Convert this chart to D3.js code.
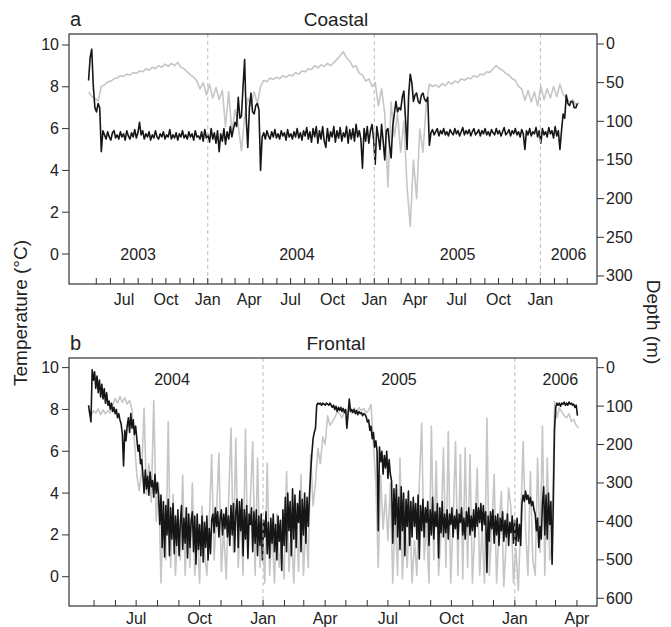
<!DOCTYPE html>
<html>
<head>
<meta charset="utf-8">
<script src="https://cdn.jsdelivr.net/npm/d3@7"></script>
<style>
  body { margin: 0; background: #fff; }
  svg text { font-family: "Liberation Sans", Arial, Helvetica, sans-serif; fill: #222; }
</style>
</head>
<body>
<div id="chart"></div>
<script>
// ---- data ----
// panel a (Coastal), series start 2003-04-14
const coastalStart = Date.UTC(2003, 3, 14);
const coastalTempStep = 3.5;   // days between temperature readings
const coastalDepthStep = 7;    // days between depth readings
const coastalTemp = [
  8.3, 9.4, 9.8, 8.0, 7.0, 6.8, 7.2, 7.0, 4.9, 5.9,
  5.7, 5.5, 5.85, 5.6, 5.45, 5.8, 5.9, 5.55, 5.7, 5.5,
  5.85, 5.6, 5.75, 5.45, 5.9, 5.65, 5.5, 5.8, 5.6, 5.95,
  5.55, 5.8, 6.3, 5.7, 5.9, 5.5, 5.75, 5.6, 5.85, 5.45,
  5.7, 5.55, 5.9, 5.6, 5.5, 5.75, 5.6, 5.85, 5.5, 5.7,
  5.6, 5.95, 5.5, 5.7, 5.55, 5.8, 5.45, 5.75, 5.6, 5.9,
  5.55, 5.7, 5.5, 5.85, 5.6, 5.75, 5.45, 5.9, 5.6, 5.65,
  5.5, 5.85, 5.4, 5.95, 5.55, 5.7, 5.35, 6.0, 5.5, 5.8,
  5.3, 5.9, 4.9, 5.75, 5.4, 6.0, 5.25, 5.85, 5.5, 6.1,
  5.6, 6.0, 6.3, 6.1, 7.5, 6.5, 6.6, 8.0, 9.3, 6.5,
  5.1, 7.0, 7.7, 6.8, 6.7, 7.1, 7.2, 6.9, 4.0, 5.6,
  5.8, 5.5, 5.9, 5.65, 5.5, 5.85, 5.6, 5.95, 5.55, 5.75,
  5.5, 5.9, 5.65, 5.8, 5.45, 5.95, 5.6, 5.75, 5.5, 5.85,
  5.6, 6.0, 5.55, 5.8, 5.45, 5.9, 5.65, 6.05, 5.5, 5.85,
  5.35, 6.0, 5.6, 6.1, 5.3, 5.9, 5.5, 6.1, 5.4, 5.1,
  6.0, 5.4, 5.85, 5.6, 6.1, 5.35, 5.9, 5.55, 6.05, 5.4,
  5.8, 5.6, 6.1, 5.3, 5.95, 5.5, 6.0, 5.4, 6.2, 5.6,
  5.9, 5.5, 4.1, 6.0, 5.4, 6.1, 5.3, 5.9, 6.2, 5.5,
  4.3, 6.1, 5.6, 5.0, 6.2, 5.4, 4.5, 5.9, 6.0, 5.2, 4.6, 6.1,
  6.7, 7.3, 6.8, 7.0, 6.9, 7.5, 7.8, 6.5, 5.0, 7.6,
  8.6, 8.2, 7.3, 7.6, 7.7, 7.3, 7.2, 7.6, 7.7, 7.4,
  7.3, 7.5, 5.2, 5.8,
  5.95, 5.7, 5.85, 6.0, 5.65, 5.9, 5.75, 6.0, 5.7, 5.85,
  5.65, 5.95, 5.8, 5.7, 6.0, 5.75, 5.9, 5.65, 5.85, 6.05,
  5.7, 5.9, 5.75, 5.95, 5.65, 5.85, 6.0, 5.7, 5.8, 5.95,
  5.65, 5.9, 5.75, 6.0, 5.7, 5.85, 5.65, 5.95, 5.8, 5.7,
  6.0, 5.75, 5.9, 5.65, 5.85, 6.05, 5.7, 5.8, 5.95, 5.65,
  5.9, 5.75, 6.0, 5.7, 5.85, 5.6, 5.95, 5.75, 5.0, 5.9,
  5.7, 6.0, 5.65, 5.85, 5.75, 6.05, 5.6, 5.9, 5.3, 6.0,
  5.7, 5.85, 5.6, 6.05, 5.75, 5.9, 5.55, 6.1, 5.65, 5.9,
  5.0, 5.9, 6.7, 6.5, 7.6, 7.2, 7.1, 7.3, 7.3, 7.0,
  7.0, 7.2
];
const coastalDepth = [
  62, 68, 70, 74, 55, 53, 49, 48, 45, 44,
  41, 42, 39, 40, 37, 38, 35, 36, 32, 34,
  30, 32, 28, 30, 26, 29, 25, 28, 24, 30,
  32, 36, 40, 43, 48, 58, 50, 66, 52, 70,
  56, 72, 60, 107, 62, 115, 85, 105, 138, 95,
  70, 80, 62, 78, 55, 47, 49, 44, 46, 43,
  45, 41, 43, 40, 41, 37, 39, 35, 36, 32,
  33, 28, 31, 27, 29, 25, 28, 24, 20, 15,
  10, 18, 22, 30, 28, 38, 40, 48, 45, 55,
  50, 80, 58, 90, 185, 75, 120, 90, 140, 100,
  185, 236, 150, 200, 110, 140, 80, 52, 55, 53,
  56, 51, 54, 49, 52, 48, 50, 45, 47, 44,
  45, 41, 43, 39, 40, 36, 37, 32, 28, 32,
  34, 38, 40, 45, 47, 55, 58, 73, 60, 75,
  62, 80, 55, 72, 58, 70, 55, 68, 52, 65,
  70, 75, 72, 78, 76
];

// panel b (Frontal), series start 2004-04-23
const frontalStart = Date.UTC(2004, 3, 23);
const frontalTempStep = 1.75;
const frontalDepthStep = 3.5;
const frontalTemp = [
  8.2, 7.8, 7.4, 9.9,
  9.4, 9.8, 9.0, 9.6, 8.8, 9.4, 8.6, 9.2, 8.5, 9.0, 8.3, 8.8, 8.2,
  8.4, 8.0, 8.3, 7.9, 8.1, 7.8, 8.0, 7.6, 7.8, 7.5, 7.3,
  6.8, 5.3, 7.0, 6.5,
  7.2, 7.6, 6.9, 7.8, 7.1, 7.5, 6.8, 7.2,
  6.6, 6.0, 6.3, 5.4, 5.6,
  4.9, 4.0, 5.1, 4.2, 4.8, 3.9, 5.0, 4.3, 4.6, 3.8, 4.9, 4.0, 4.5, 3.9,
  2.5, 3.9, 1.4, 3.6, 0.95, 3.4, 2.0, 3.7,
  1.0, 3.3, 1.8, 3.5, 1.1, 2.9, 1.5, 3.2, 1.0, 2.6,
  3.4, 1.3, 2.8, 1.6, 3.3, 0.9, 3.0, 1.4, 2.7, 3.1,
  1.2, 2.9, 0.6, 3.0, 1.3, 2.5, 1.0, 2.9,
  0.7, 2.6, 1.4, 2.9, 0.8, 2.3, 1.1, 2.7,
  3.0, 2.1, 3.3, 2.4, 3.1, 1.9, 2.8, 3.2, 2.0, 3.0, 2.3, 3.3, 1.9, 2.9,
  1.5, 3.4, 2.0, 3.5, 1.2, 3.1, 3.7, 1.4, 3.6, 2.2,
  3.7, 1.0, 3.2, 1.8, 3.4, 0.9, 3.0, 2.5, 3.3, 1.2,
  3.1, 1.6, 3.2,
  1.0, 2.9, 1.5, 3.0, 0.8, 2.7, 1.9, 3.1, 1.1, 2.6,
  0.9, 2.8, 1.6, 3.0, 1.2, 2.5, 0.8, 2.9, 1.7, 2.7,
  0.3,
  3.2, 1.5, 3.8, 1.2, 4.0, 2.2, 3.6, 1.0, 4.2, 1.8,
  3.9, 1.4, 3.5, 2.6, 4.1, 1.2, 3.7, 2.0, 4.0, 1.6,
  3.8, 2.4, 3.9,
  5.0, 5.9, 6.6, 6.9, 7.1, 8.2, 8.3,
  8.25, 8.3, 8.2, 8.3, 8.25, 8.2, 8.3, 8.25, 8.2, 8.3, 8.2,
  8.1, 8.2, 8.0, 8.15, 7.9, 8.1, 7.95, 8.1, 7.9, 8.05,
  7.85, 8.0, 7.1, 7.8, 8.5, 7.9, 8.0, 7.85, 8.0, 7.8,
  7.95, 7.75, 7.9, 7.8, 7.85, 7.7, 7.8, 7.75, 7.65,
  7.4, 7.5, 7.0, 7.2, 6.6, 6.9, 6.2, 6.5,
  6.0, 2.2, 6.2, 5.5, 6.0, 4.9, 5.8, 5.2, 6.0, 4.7, 5.6, 4.9,
  4.6, 1.6, 4.2, 2.5, 4.4, 1.9, 3.8, 1.3, 4.3, 2.2,
  4.0, 1.0, 3.7, 2.4, 4.1, 1.5, 3.6,
  1.9, 3.8, 2.4, 3.5, 1.8, 3.9, 0.85, 3.4, 2.2, 3.7,
  1.9, 3.3, 2.6, 3.6, 1.5, 3.2, 2.0, 3.8, 1.8, 3.1,
  2.4, 3.5, 0.9, 3.3, 2.1, 3.6, 1.9, 3.0,
  2.1, 3.2, 1.8, 3.0, 2.5, 3.3, 1.9, 2.9, 2.3, 3.2,
  1.8, 3.0, 2.6, 3.3, 2.0, 2.8, 1.8, 3.1, 2.4, 3.3,
  2.0, 2.9, 2.2, 3.2, 1.9,
  3.5, 2.4, 3.3, 2.6, 3.5, 2.2, 3.4, 2.5, 3.1, 0.2, 2.9,
  1.7, 3.1, 2.3, 3.2, 1.6, 2.9, 2.0, 3.0, 1.5, 2.8,
  2.2, 3.1, 1.7, 2.7, 1.9, 3.0, 1.5, 2.6, 2.1, 2.9,
  1.6, 2.7,
  1.5, 2.8, 1.7, 2.5, 1.5,
  3.5, 3.9, 3.6, 4.1, 3.7, 3.9, 3.5, 3.8, 3.4, 3.6, 3.2,
  3.0, 2.2, 2.8, 1.4, 2.4, 1.8,
  3.5, 4.3, 2.0, 3.9, 1.8, 4.0, 2.5, 3.6, 0.6,
  3.5, 7.0, 8.1,
  8.3, 8.2, 8.3, 8.15, 8.3, 8.25, 8.35, 8.2, 8.3, 8.2,
  8.35, 8.25, 8.3, 8.2, 8.25, 8.1, 8.2, 7.7
];
const frontalDepth = [
  110, 126, 112, 118, 108, 122, 110, 120, 112, 118,
  97, 80, 92, 75, 90, 78, 95, 85, 110, 190,
  280, 320, 270, 105, 330, 250, 350, 85, 400, 300,
  560, 350, 500, 140, 520, 330, 540, 400, 500, 280,
  540, 380, 520, 300, 540, 420, 560, 360, 480, 540,
  400, 226, 500, 380, 222, 530, 420, 550, 350, 157,
  480, 183, 520, 380, 540, 160, 500, 350, 192, 540,
  235, 520, 400, 560, 248, 540, 420, 560, 380, 520,
  450, 550, 270, 530, 420, 560, 380, 530, 278, 540,
  400, 520, 226, 360, 300, 210, 250, 180, 200, 125,
  150, 140, 130, 115, 120, 130, 112, 122, 108, 118,
  105, 115, 104, 112, 106, 118, 110, 96, 200, 300,
  520, 280, 420, 330, 450, 300, 560, 380, 540, 235,
  550, 400, 520, 360, 560, 450, 540, 300, 144, 500,
  400, 560, 152, 500, 243, 540, 430, 209, 520, 166,
  560, 400, 192, 540, 226, 550, 209, 520, 226, 560,
  420, 261, 540, 420, 560, 131, 540, 420, 278, 560,
  420, 322, 570, 450, 313, 365, 560, 470, 580, 400,
  192, 420, 540, 270, 500, 540, 235, 480, 152, 540,
  235, 500, 460, 88, 130, 105, 115, 125, 130, 120,
  140, 135, 150, 157
];

const tempTicks = [0, 2, 4, 6, 8, 10];
const coastalDepthTicks = [0, 50, 100, 150, 200, 250, 300];
const frontalDepthTicks = [0, 100, 200, 300, 400, 500, 600];
const monthNames = ['Jan', 'Apr', 'Jul', 'Oct'];
const coastalYears = [['2003', '2003-08-01'], ['2004', '2004-07-15'], ['2005', '2005-07-03'], ['2006', '2006-03-04']];
const frontalYears = [['2004', '2004-08-22'], ['2005', '2005-07-17'], ['2006', '2006-03-08']];

// ---- drawing ----
const width = 671, height = 627;
const left = 69, right = 597;
const svg = d3.select('#chart').append('svg')
  .attr('width', width)
  .attr('height', height);

function toSeries(start, stepDays, values) {
  return values.map((v, i) => ({ date: new Date(start + i * stepDays * 864e5), v: v }));
}

function drawPanel(p) {
  const temp = toSeries(p.start, p.tempStep, p.temp);
  const depth = toSeries(p.start, p.depthStep, p.depth);
  const t0 = temp[0].date, t1 = temp[temp.length - 1].date;
  const pad = (t1 - t0) * 0.04;

  const x = d3.scaleUtc()
    .domain([new Date(+t0 - pad), new Date(+t1 + pad)])
    .range([left, right]);
  const yT = d3.scaleLinear().domain(p.tempDomain).range([p.bottom, p.top]);
  const yD = d3.scaleLinear().domain(p.depthDomain).range([p.top, p.bottom]);

  const g = svg.append('g').classed(p.name, true);

  g.append('path')
    .datum(depth)
    .attr('fill', 'none')
    .attr('stroke', '#c6c6c6')
    .attr('stroke-width', 1.6)
    .attr('stroke-linejoin', 'round')
    .attr('d', d3.line().x(d => x(d.date)).y(d => yD(d.v)));

  g.append('path')
    .datum(temp)
    .attr('fill', 'none')
    .attr('stroke', '#161616')
    .attr('stroke-width', 1.6)
    .attr('stroke-linejoin', 'round')
    .attr('d', d3.line().x(d => x(d.date)).y(d => yT(d.v)));

  // year separators
  const jans = d3.utcYear.range(t0, t1);
  g.selectAll('line.sep')
    .data(jans)
    .enter()
    .append('line')
    .attr('x1', d => x(d)).attr('x2', d => x(d))
    .attr('y1', p.top).attr('y2', p.bottom)
    .style('stroke', '#bdbdbd')
    .style('stroke-dasharray', '4,3');

  // frame
  g.append('rect')
    .attr('x', left).attr('y', p.top)
    .attr('width', right - left).attr('height', p.bottom - p.top)
    .attr('fill', 'none')
    .attr('stroke', '#333')
    .attr('stroke-width', 1.2);

  // bottom month ticks, pointing inward
  const months = d3.utcMonth.range(d3.utcMonth.ceil(t0), d3.utcDay.offset(t1, 1));
  g.selectAll('line.mtick')
    .data(months)
    .enter()
    .append('line')
    .attr('x1', d => x(d)).attr('x2', d => x(d))
    .attr('y1', p.bottom).attr('y2', p.bottom - 6)
    .style('stroke', '#333');
  g.selectAll('text.mlab')
    .data(months.filter(d => d.getUTCMonth() % 3 === 0))
    .enter()
    .append('text')
    .attr('x', d => x(d))
    .attr('y', p.bottom + p.labelGap)
    .attr('text-anchor', 'middle')
    .style('font-size', '16px')
    .text(d => monthNames[d.getUTCMonth() / 3]);

  // left axis
  g.selectAll('line.ltick')
    .data(tempTicks)
    .enter()
    .append('line')
    .attr('x1', left - 7).attr('x2', left)
    .attr('y1', d => yT(d)).attr('y2', d => yT(d))
    .style('stroke', '#333');
  g.selectAll('text.llab')
    .data(tempTicks)
    .enter()
    .append('text')
    .attr('x', left - 10)
    .attr('y', d => yT(d) + 5.5)
    .attr('text-anchor', 'end')
    .style('font-size', '16px')
    .text(d => d);

  // right axis
  g.selectAll('line.rtick')
    .data(p.depthTicks)
    .enter()
    .append('line')
    .attr('x1', right).attr('x2', right + 7)
    .attr('y1', d => yD(d)).attr('y2', d => yD(d))
    .style('stroke', '#333');
  g.selectAll('text.rlab')
    .data(p.depthTicks)
    .enter()
    .append('text')
    .attr('x', right + 9)
    .attr('y', d => yD(d) + 5.5)
    .style('font-size', '16px')
    .text(d => d);

  // year labels
  g.selectAll('text.year')
    .data(p.years)
    .enter()
    .append('text')
    .attr('x', d => x(new Date(d[1])))
    .attr('y', p.yearY)
    .attr('text-anchor', 'middle')
    .style('font-size', '16px')
    .text(d => d[0]);

  // titles
  g.append('text')
    .attr('x', left + 1).attr('y', p.top - 8)
    .style('font-size', '20px')
    .text(p.letter);
  g.append('text')
    .attr('x', (left + right) / 2 + 3).attr('y', p.top - 8)
    .attr('text-anchor', 'middle')
    .style('font-size', '19px')
    .text(p.title);
}

drawPanel({
  name: 'coastal', letter: 'a', title: 'Coastal',
  top: 34, bottom: 284,
  start: coastalStart, tempStep: coastalTempStep, depthStep: coastalDepthStep,
  temp: coastalTemp, depth: coastalDepth,
  tempDomain: [-1.435, 10.526], depthDomain: [-12.9, 310.4],
  depthTicks: coastalDepthTicks,
  years: coastalYears, yearY: 260, labelGap: 21
});

drawPanel({
  name: 'frontal', letter: 'b', title: 'Frontal',
  top: 358, bottom: 606,
  start: frontalStart, tempStep: frontalTempStep, depthStep: frontalDepthStep,
  temp: frontalTemp, depth: frontalDepth,
  tempDomain: [-1.40, 10.46], depthDomain: [-25.2, 620.1],
  depthTicks: frontalDepthTicks,
  years: frontalYears, yearY: 385, labelGap: 18
});

// shared axis titles
svg.append('text')
  .attr('transform', 'translate(27, 313) rotate(-90)')
  .attr('text-anchor', 'middle')
  .style('font-size', '19px')
  .text('Temperature (°C)');
svg.append('text')
  .attr('transform', 'translate(647, 322) rotate(90)')
  .attr('text-anchor', 'middle')
  .style('font-size', '19px')
  .text('Depth (m)');
</script>
</body>
</html>
